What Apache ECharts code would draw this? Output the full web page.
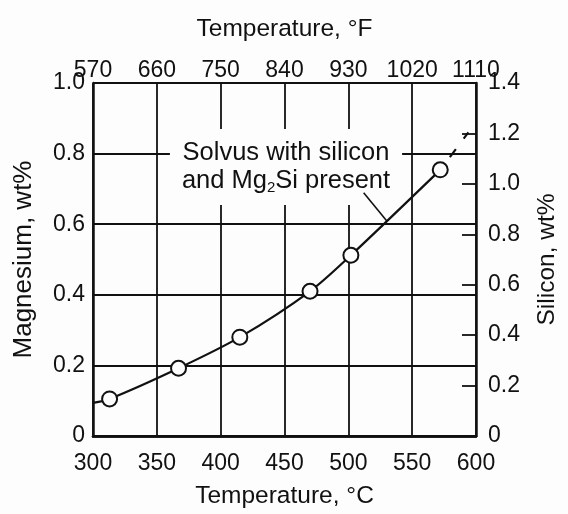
<!DOCTYPE html>
<html>
<head>
<meta charset="utf-8">
<script src="https://cdn.jsdelivr.net/npm/echarts@6/dist/echarts.min.js"></script>
<style>
  html, body { margin: 0; padding: 0; background: #fdfdfd; }
  #chart { width: 568px; height: 514px; }
</style>
</head>
<body>
<div id="chart"></div>
<script>
// Measured solvus points: temperature (°C) and magnesium content (wt%)
const tempC = [313, 367, 415, 470, 502, 572];
const magnesium = [0.105, 0.192, 0.28, 0.41, 0.512, 0.754];

// Where the solid curve meets the left axis, and its dashed continuation
const curveStart = [300, 0.094];
const curveExtension = [[572, 0.754], [594, 0.86]];

// Leader from the annotation to the curve
const leaderLine = [[512, 0.689], [530, 0.61]];

// Axis ticks
const tempTicksC = [300, 350, 400, 450, 500, 550, 600];
const tempTicksF = ['570', '660', '750', '840', '930', '1020', '1110'];
const magnesiumRange = [0, 1.0];
const siliconRange = [0, 1.4];

const INK = '#111111';
const PAPER = '#fdfdfd';
const FONT = 'Liberation Sans';

const points = tempC.map((t, i) => [t, magnesium[i]]);
const fmt = v => (v === 0 ? '0' : v.toFixed(1));

const chart = echarts.init(document.getElementById('chart'), null, { renderer: 'canvas' });

const axisLine = { show: true, lineStyle: { color: INK, width: 2.5 } };
const gridLine = { show: true, lineStyle: { color: INK, width: 1.8 } };
const labelStyle = { color: INK, fontFamily: FONT, fontSize: 23 };
const nameStyle = { color: INK, fontFamily: FONT, fontSize: 24.5 };

chart.setOption({
  backgroundColor: PAPER,
  animation: false,
  grid: { left: 93, right: 86, top: 83, bottom: 71, containLabel: false },
  xAxis: [
    {
      type: 'value', position: 'bottom',
      min: tempTicksC[0], max: tempTicksC[tempTicksC.length - 1], interval: 50,
      name: 'Temperature, °C', nameLocation: 'middle', nameGap: 48, nameTextStyle: nameStyle,
      axisLine, axisTick: { show: false },
      axisLabel: Object.assign({ margin: 16 }, labelStyle),
      splitLine: gridLine
    },
    {
      type: 'value', position: 'top',
      min: tempTicksC[0], max: tempTicksC[tempTicksC.length - 1], interval: 50,
      name: 'Temperature, °F', nameLocation: 'middle', nameGap: 41, nameTextStyle: nameStyle,
      axisLine, axisTick: { show: false },
      axisLabel: Object.assign({
        margin: 1,
        formatter: v => tempTicksF[tempTicksC.indexOf(v)]
      }, labelStyle),
      splitLine: { show: false }
    }
  ],
  yAxis: [
    {
      type: 'value', position: 'left',
      min: magnesiumRange[0], max: magnesiumRange[1], interval: 0.2,
      name: 'Magnesium, wt%', nameLocation: 'middle', nameGap: 56, nameRotate: 90,
      nameTextStyle: Object.assign({}, nameStyle, { fontSize: 26 }),
      axisLine, axisTick: { show: false },
      axisLabel: Object.assign({ margin: 8, formatter: fmt }, labelStyle),
      splitLine: gridLine
    },
    {
      type: 'value', position: 'right',
      min: siliconRange[0], max: siliconRange[1], interval: 0.2,
      name: 'Silicon, wt%', nameLocation: 'middle', nameGap: 59, nameRotate: 90,
      nameTextStyle: nameStyle,
      axisLine,
      axisTick: { show: true, inside: true, length: 14, lineStyle: { color: INK, width: 1.8 } },
      axisLabel: Object.assign({ margin: 12, formatter: fmt }, labelStyle),
      splitLine: { show: false }
    }
  ],
  graphic: [
    {
      type: 'text',
      x: 286, y: 167, z: 100,
      style: {
        text: '{n|Solvus with silicon}\n{n|and Mg}{s|2}{n|Si present}',
        align: 'center',
        verticalAlign: 'middle',
        backgroundColor: PAPER,
        padding: [10, 12, 10, 12],
        rich: {
          n: { fontFamily: FONT, fontSize: 25.5, lineHeight: 28, fill: INK },
          s: { fontFamily: FONT, fontSize: 15, lineHeight: 15, padding: [14, 0, 0, 0], fill: INK }
        }
      }
    }
  ],
  series: [
    {
      name: 'Solvus',
      type: 'line',
      xAxisIndex: 0, yAxisIndex: 0,
      data: [curveStart].concat(points),
      smooth: 0.3,
      showSymbol: false,
      lineStyle: { color: INK, width: 2.2 },
      z: 3
    },
    {
      name: 'Solvus (extrapolated)',
      type: 'line',
      xAxisIndex: 0, yAxisIndex: 0,
      data: curveExtension,
      showSymbol: false,
      lineStyle: { color: INK, width: 2.2, type: [10, 13], dashOffset: 7 },
      z: 3
    },
    {
      name: 'Leader',
      type: 'line',
      xAxisIndex: 0, yAxisIndex: 0,
      data: leaderLine,
      showSymbol: false,
      lineStyle: { color: INK, width: 1.6 },
      z: 110
    },
    {
      name: 'Measured',
      type: 'scatter',
      xAxisIndex: 0, yAxisIndex: 0,
      data: points,
      symbol: 'circle',
      symbolSize: 15,
      itemStyle: { color: PAPER, borderColor: INK, borderWidth: 2, opacity: 1 },
      z: 5
    }
  ]
});
</script>
</body>
</html>
